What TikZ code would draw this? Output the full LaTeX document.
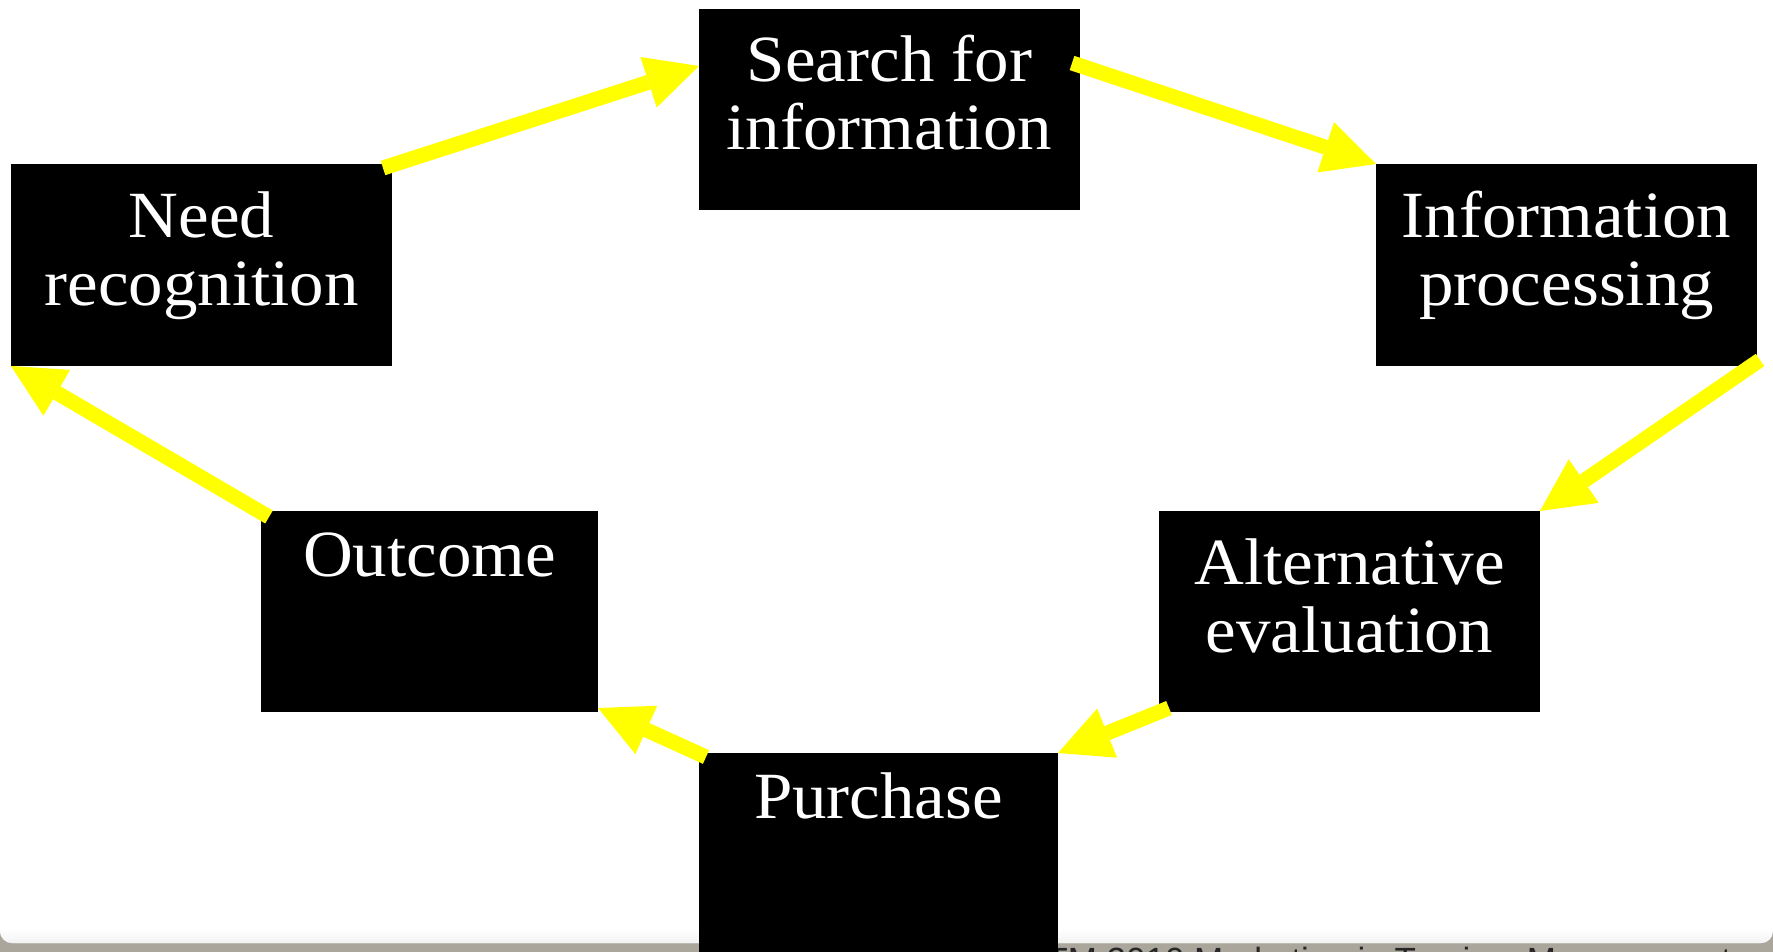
\documentclass[tikz,border=0pt]{standalone}
\usepackage{fontspec}
\setmainfont[FakeStretch=1.045]{Liberation Serif}
\newfontfamily\footfont{Liberation Sans}
\usetikzlibrary{arrows.meta,calc}
\definecolor{band}{RGB}{170,166,156}
\definecolor{arrowyellow}{RGB}{255,255,0}
\newcommand\stagetxt[4]{\parbox[c][#1][t]{#2}{\centering\rule{0pt}{#3}#4}}
\begin{document}
\begin{tikzpicture}[x=0.5pt,y=-0.5pt,
  stage/.style={fill=black,text=white,inner sep=0pt,outer sep=0pt,anchor=north west,
    font=\fontsize{33}{34}\selectfont},
  flow/.style={draw=arrowyellow,line width=7.5pt,
    -{Triangle[length=26.5pt,width=26.5pt,line width=0pt 0,fill=arrowyellow]}}]
\useasboundingbox (0,0) rectangle (1773,952);
\begin{scope}
\clip (0,0) rectangle (1773,952);
% slide background
\fill[band] (0,900) rectangle (1773,952);
\fill[white,rounded corners=6pt] (0,-40) rectangle (1773,943);
\begin{scope}
  \clip[rounded corners=6pt] (0,-40) rectangle (1773,943);
  \shade[top color=white,bottom color=black!5] (0,929) rectangle (1773,943);
\end{scope}
% footer (cut off at the lower edge, as in the reference)
\node[anchor=base west,font=\footfont\fontsize{17.5}{20}\selectfont,text=black!85,inner sep=0pt]
  (footer) at (1046,972) {TM 2010 Marketing in Tourism Management};
% stages
\node[stage] (need)     at (11,164)   {\stagetxt{101pt}{190.5pt}{36.5pt}{Need\\recognition}};
\node[stage] (search)   at (699,9)    {\stagetxt{100.5pt}{190.5pt}{36.5pt}{Search for\\information}};
\node[stage] (info)     at (1376,164) {\stagetxt{101pt}{190.5pt}{36.5pt}{Information\\processing}};
\node[stage] (alt)      at (1159,511) {\stagetxt{100.5pt}{190.5pt}{36.5pt}{Alternative\\evaluation}};
\node[stage] (purchase) at (699,753)  {\stagetxt{101pt}{179.5pt}{32.5pt}{Purchase}};
\node[stage] (outcome)  at (261,511)  {\stagetxt{100.5pt}{168.5pt}{32.5pt}{Outcome}};
% connectors
\draw[flow] ($(need.north east)+(-9,4)$) -- ($(search.north west)+(0,57)$);
\draw[flow] ($(search.north east)+(-8,54)$) -- (info.north west);
\draw[flow] ($(info.south east)+(3,-6)$) -- (alt.north east);
\draw[flow] ($(alt.south west)+(10,-4)$) -- (purchase.north east);
\draw[flow] ($(purchase.north west)+(7,4)$) -- ($(outcome.south east)+(0,-4)$);
\draw[flow] ($(outcome.north west)+(8,6)$) -- (need.south west);
\end{scope}
\end{tikzpicture}
\end{document}
